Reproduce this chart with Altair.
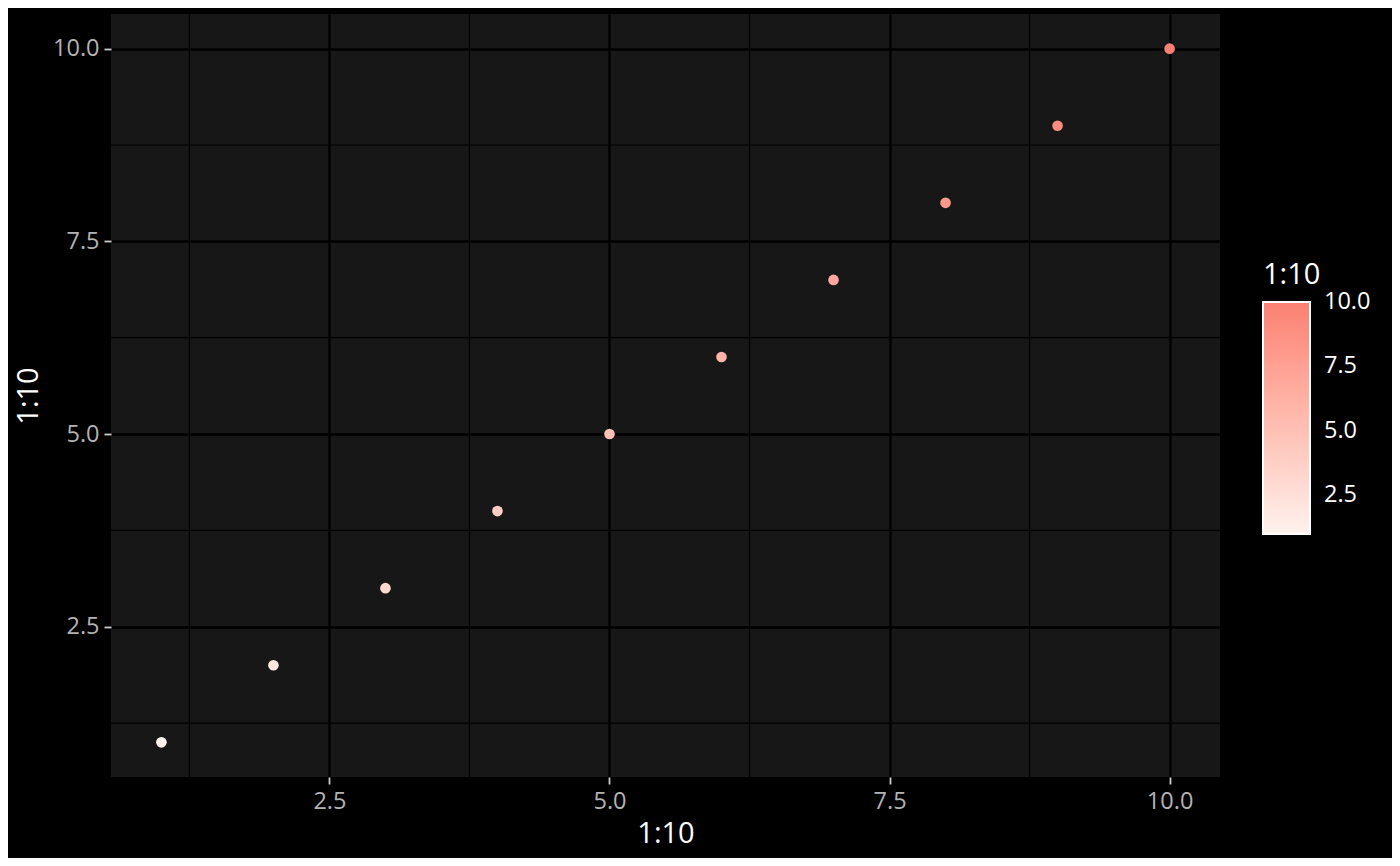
import altair as alt
import pandas as pd

# ---- data ----
xs = [1, 2, 3, 4, 5, 6, 7, 8, 9, 10]
ys = [1, 2, 3, 4, 5, 6, 7, 8, 9, 10]
cs = [1, 2, 3, 4, 5, 6, 7, 8, 9, 10]
major_breaks = [2.5, 5.0, 7.5, 10.0]
minor_breaks = [1.25, 3.75, 6.25, 8.75]
legend_values = [2.5, 5.0, 7.5, 10.0]

pts = pd.DataFrame({"x": xs, "y": ys, "c": cs})
minor = pd.DataFrame({"v": minor_breaks})

FONT = "Open Sans"

xscale = alt.Scale(domain=[0.55, 10.45], nice=False, zero=False)
yscale = alt.Scale(domain=[0.55, 10.45], nice=False, zero=False)

common_axis = dict(
    values=major_breaks, format=".1f", grid=True, gridColor="#000000",
    gridWidth=2.4, domain=False, tickColor="#CCCCCC", tickSize=7,
    tickWidth=1.8, labelColor="#B3B3B3", labelFont=FONT, labelFontSize=23.5,
    labelPadding=5, titleColor="#FFFFFF", titleFont=FONT, titleFontSize=29,
    titleFontWeight="normal",
)
xaxis = alt.Axis(title="1:10", titlePadding=7, **common_axis)
yaxis = alt.Axis(title="1:10", titlePadding=9, **common_axis)

vrules = alt.Chart(minor).mark_rule(color="#000000", strokeWidth=1.2).encode(
    x=alt.X("v:Q", scale=xscale, axis=xaxis)
)
hrules = alt.Chart(minor).mark_rule(color="#000000", strokeWidth=1.2).encode(
    y=alt.Y("v:Q", scale=yscale, axis=yaxis)
)

points = alt.Chart(pts).mark_circle(size=113, opacity=1).encode(
    x=alt.X("x:Q", scale=xscale, axis=xaxis),
    y=alt.Y("y:Q", scale=yscale, axis=yaxis),
    color=alt.Color(
        "c:Q",
        scale=alt.Scale(domain=[1, 10.001], range=["#FFF2EE", "#FA8072"], interpolate="lab"),
        legend=alt.Legend(
            title="1:10", values=legend_values, format=".1f", orient="none",
            direction="vertical", legendX=1152, legendY=247, padding=0,
            gradientLength=232, gradientThickness=47,
            gradientStrokeColor="#FFFFFF", gradientStrokeWidth=2,
            labelColor="#FFFFFF", labelFont=FONT, labelFontSize=23.5,
            labelOffset=14,
            titleColor="#FFFFFF", titleFont=FONT, titleFontSize=29,
            titleFontWeight="normal", titlePadding=12,
        ),
    ),
)

chart = (
    alt.layer(vrules, hrules, points)
    .properties(
        width=1109, height=763,
        autosize=alt.AutoSizeParams(type="none"),
        padding={"left": 103, "top": 6, "right": 172, "bottom": 81},
        background="#000000",
    )
    .configure_view(fill="#171717", strokeWidth=0)
)

chart.save("out.html", embed_options={"renderer": "svg", "actions": False})
